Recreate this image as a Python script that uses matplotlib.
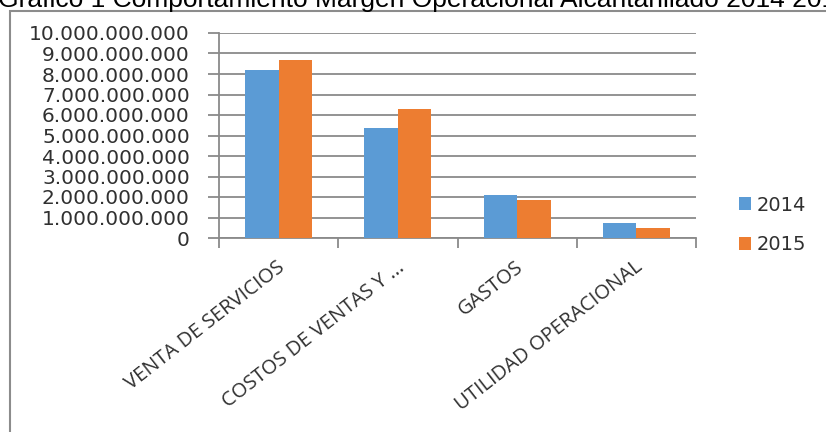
import matplotlib
matplotlib.use("Agg")
import matplotlib.pyplot as plt
from matplotlib.patches import Rectangle
from matplotlib.ticker import FuncFormatter
import numpy as np

categories = ["VENTA DE SERVICIOS", "COSTOS DE VENTAS Y ...", "GASTOS", "UTILIDAD OPERACIONAL"]
series_names = ["2014", "2015"]
values_2014 = [8.20e9, 5.38e9, 2.10e9, 0.73e9]
values_2015 = [8.68e9, 6.28e9, 1.85e9, 0.49e9]
yticks = [i * 1e9 for i in range(11)]
title = "Grafico 1 Comportamiento Margen Operacional Alcantarillado 2014 2015"

W, H = 826, 432
fig = plt.figure(figsize=(W / 100, H / 100), dpi=100)

def px(x0, y0, x1, y1):
    return [x0 / W, 1 - y1 / H, (x1 - x0) / W, (y1 - y0) / H]

# outer chart border (cropped at right/bottom)
fig.patches.append(Rectangle((10 / W, -0.2), 2.0, (H - 10.5) / H + 0.2, transform=fig.transFigure,
                             fill=False, edgecolor="#8c8c8c", linewidth=1.5))

fig.text(-2 / W, 1 - 7 / H, title, fontsize=19, family="Liberation Sans",
         va="baseline", ha="left", color="black")

ax = fig.add_axes(px(219, 33, 696, 238))
grid = "#8a8a8a"
x = np.arange(len(categories)) + 0.5
bw = 0.28
b1 = ax.bar(x - bw / 2, values_2014, bw, color="#5B9BD5", label=series_names[0], zorder=3)
b2 = ax.bar(x + bw / 2, values_2015, bw, color="#ED7D31", label=series_names[1], zorder=3)

ax.set_xlim(0, len(categories))
ax.set_ylim(0, 10e9)
ax.set_yticks(yticks)
ax.yaxis.set_major_formatter(FuncFormatter(lambda v, p: f"{int(round(v)):,}".replace(",", ".")))
ax.grid(axis="y", color=grid, linewidth=1.3, zorder=0)
ax.set_axisbelow(True)
for s in ["top", "right"]:
    ax.spines[s].set_visible(False)
for s in ["left", "bottom"]:
    ax.spines[s].set_color(grid)
    ax.spines[s].set_linewidth(1.3)
ax.tick_params(axis="y", length=8, width=1.3, color=grid, pad=13, labelsize=14.5, labelcolor="#303030")
for t in ax.get_yticklabels():
    t.set_family("DejaVu Sans")
ax.set_xticks(np.arange(len(categories) + 1))
ax.set_xticklabels([])
ax.tick_params(axis="x", length=7, width=1.3, color=grid)

for xi, lab in zip(x, categories):
    ax.annotate(lab, xy=(xi, 0), xycoords=("data", "axes fraction"),
                xytext=(4, -27), textcoords="offset pixels",
                rotation=38, rotation_mode="anchor", ha="right", va="center",
                fontsize=14.5, family="Open Sans", color="#303030")

fig.legend(handles=[b1, b2], labels=series_names, loc="center left",
           bbox_to_anchor=(721 / W, 1 - 225 / H), frameon=False,
           prop={"family": "DejaVu Sans", "size": 14}, handlelength=0.65, handleheight=0.65,
           handletextpad=0.3, labelspacing=1.05, labelcolor="#303030")

fig.savefig("out.png", dpi=100)
